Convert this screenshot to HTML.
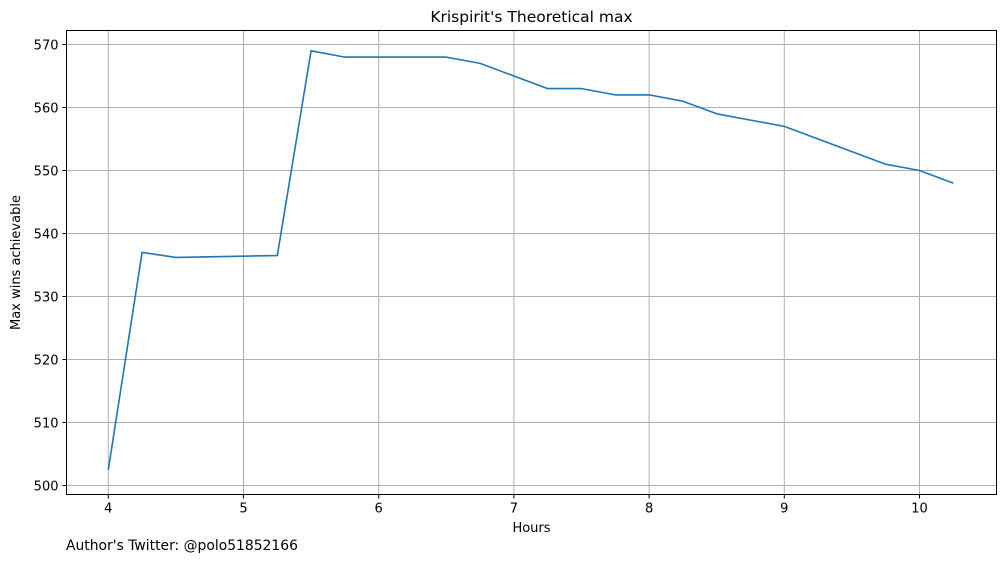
<!DOCTYPE html>
<html><head><meta charset="utf-8"><style>
body{margin:0;background:#fff;font-family:"Liberation Sans","DejaVu Sans",sans-serif;}
svg text{font-family:"DejaVu Sans","Liberation Sans",sans-serif;font-size:13px;fill:#000;}
</style></head><body>
<svg id="c" width="1005" height="562"></svg>
<script>
const hours=[4,4.25,4.5,4.75,5,5.25,5.5,5.75,6,6.25,6.5,6.75,7,7.25,7.5,7.75,8,8.25,8.5,8.75,9,9.25,9.5,9.75,10,10.25];
const wins=[502.5,537,536.2,536.3,536.4,536.5,569,568,568,568,568,567,565,563,563,562,562,561,559,558,557,555,553,551,550,548];
const xTicks=[4,5,6,7,8,9,10];
const yTicks=[500,510,520,530,540,550,560,570];
const L=66.5,R=996.5,T=30.5,B=494.5;
const X=v=>108.3+(v-4)*135.2;
const Y=v=>485.5-(v-500)*6.3;
const s=document.getElementById('c'),NS='http://www.w3.org/2000/svg';
function el(t,a,txt){const e=document.createElementNS(NS,t);for(const k in a)e.setAttribute(k,a[k]);if(txt!=null)e.textContent=txt;s.appendChild(e);return e;}
xTicks.forEach(v=>{
 const g=el('line',{x1:X(v),x2:X(v),y1:T,y2:B,stroke:'#b0b0b0','stroke-width':1});
 
 
 el('line',{x1:X(v),x2:X(v),y1:B,y2:B+4,stroke:'#000'});
 const t=el('text',{x:X(v),y:B+18,'text-anchor':'middle'},v);
 
 
});
yTicks.forEach(v=>{
 const g=el('line',{x1:L,x2:R,y1:Y(v),y2:Y(v),stroke:'#b0b0b0','stroke-width':1});
 
 
 el('line',{x1:L-4,x2:L,y1:Y(v),y2:Y(v),stroke:'#000'});
 const t=el('text',{x:L-8,y:Y(v)+5,'text-anchor':'end'},v);
 
 
});
const p=el('polyline',{points:hours.map((h,i)=>X(h)+','+Y(wins[i])).join(' '),fill:'none',stroke:'#1f77b4','stroke-width':1.6,'stroke-linejoin':'round'});


const f=el('rect',{x:L,y:T,width:R-L,height:B-T,fill:'none',stroke:'#000','stroke-width':1});


const ti=el('text',{x:(L+R)/2,y:22,'text-anchor':'middle',style:'font-size:15.5px'},"Krispirit's Theoretical max");


const xl=el('text',{x:(L+R)/2,y:532,'text-anchor':'middle'},'Hours');


const yl=el('text',{x:0,y:0,'text-anchor':'middle',transform:'translate(20,'+((T+B)/2)+') rotate(-90)'},'Max wins achievable');


const au=el('text',{x:66,y:550,style:'font-size:13.9px'},"Author's Twitter: @polo51852166");


</script>
</body></html>
